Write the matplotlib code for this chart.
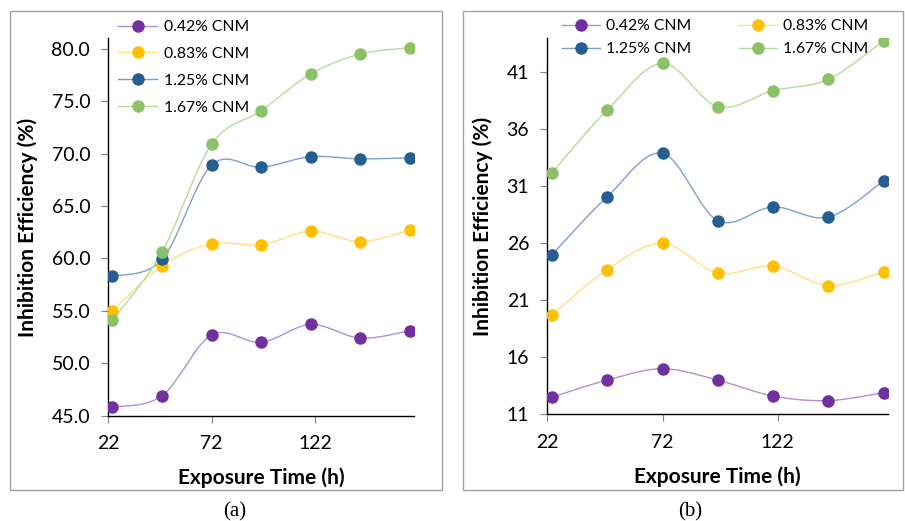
import numpy as np
import matplotlib.pyplot as plt

plt.rcParams['font.family'] = ['Lato', 'DejaVu Sans']

# exposure times (h)
hours = [24, 48, 72, 96, 120, 144, 168]
labels = ["0.42% CNM", "0.83% CNM", "1.25% CNM", "1.67% CNM"]

# panel (a) inhibition efficiency (%)
a_042 = [45.8, 46.9, 52.7, 52.0, 53.7, 52.4, 53.1]
a_083 = [55.0, 59.3, 61.4, 61.3, 62.6, 61.6, 62.7]
a_125 = [58.3, 59.9, 68.9, 68.7, 69.7, 69.5, 69.6]
a_167 = [54.1, 60.6, 70.9, 74.1, 77.6, 79.5, 80.1]

# panel (b) inhibition efficiency (%)
b_042 = [12.5, 14.0, 15.0, 14.0, 12.6, 12.2, 12.9]
b_083 = [19.7, 23.7, 26.0, 23.4, 24.0, 22.3, 23.5]
b_125 = [25.0, 30.1, 33.9, 28.0, 29.2, 28.3, 31.5]
b_167 = [32.2, 37.7, 41.8, 38.0, 39.4, 40.4, 43.8]

marker_colors = ["#7030A0", "#FFC000", "#255E91", "#8CC168"]
line_colors = ["#B28FD0", "#FFE080", "#7EA0C8", "#B5DB9A"]


def smooth(x, y, n=30):
    # Excel style smoothed line (cardinal spline -> bezier)
    x = np.asarray(x, float)
    y = np.asarray(y, float)
    px, py = [], []
    t = np.linspace(0, 1, n)
    for i in range(len(x) - 1):
        x0, y0 = (x[i - 1], y[i - 1]) if i > 0 else (x[i], y[i])
        x3, y3 = (x[i + 2], y[i + 2]) if i + 2 < len(x) else (x[i + 1], y[i + 1])
        c1x = x[i] + (x[i + 1] - x0) / 6
        c1y = y[i] + (y[i + 1] - y0) / 6
        c2x = x[i + 1] - (x3 - x[i]) / 6
        c2y = y[i + 1] - (y3 - y[i]) / 6
        bx = (1 - t) ** 3 * x[i] + 3 * (1 - t) ** 2 * t * c1x + 3 * (1 - t) * t ** 2 * c2x + t ** 3 * x[i + 1]
        by = (1 - t) ** 3 * y[i] + 3 * (1 - t) ** 2 * t * c1y + 3 * (1 - t) * t ** 2 * c2y + t ** 3 * y[i + 1]
        px.extend(bx)
        py.extend(by)
    return px, py


W, H = 905, 521
fig = plt.figure(figsize=(W / 100, H / 100), dpi=100)

# panel frames
for x0, x1 in [(10, 442), (463, 903)]:
    fig.add_artist(plt.Rectangle((x0 / W, 1 - 490 / H), (x1 - x0) / W, (490 - 11) / H,
                                 transform=fig.transFigure, fill=False, ec="#A0A0A0", lw=1.0))

ax1 = fig.add_axes([108.3 / W, 1 - 415.7 / H, (414 - 108.3) / W, (415.7 - 38.3) / H])
ax2 = fig.add_axes([547.3 / W, 1 - 414.3 / H, (888.3 - 547.3) / W, (414.3 - 38.3) / H])

panels = [(ax1, [a_042, a_083, a_125, a_167], (45, 81), np.arange(45, 81, 5), "{:.1f}"),
          (ax2, [b_042, b_083, b_125, b_167], (11, 44), np.arange(11, 44, 5), "{:.0f}")]

handles = {}
for ax, series, ylim, yt, fmt in panels:
    hs = []
    for vals, mc, lc, lab in zip(series, marker_colors, line_colors, labels):
        sx, sy = smooth(hours, vals)
        ax.plot(sx, sy, color=lc, lw=1.0, zorder=2)
        ax.plot(hours, vals, linestyle="none", marker="o", ms=8, color=mc, zorder=3)
        h, = ax.plot([], [], color=lc, lw=1.0, marker="o", ms=8, mfc=mc, mec=mc, label=lab)
        hs.append(h)
    handles[ax] = hs
    ax.set_xlim(22, 170)
    ax.set_ylim(*ylim)
    ax.set_xticks([22, 72, 122])
    ax.set_yticks(yt)
    ax.set_yticklabels([fmt.format(v) for v in yt])
    for s in ["top", "right"]:
        ax.spines[s].set_visible(False)
    for s in ["left", "bottom"]:
        ax.spines[s].set_color("black")
        ax.spines[s].set_linewidth(1.0)
    ax.tick_params(axis="both", direction="out", length=5, color="#808080", labelsize=14)
    ax.tick_params(axis="y", pad=8)
    ax.tick_params(axis="x", pad=9)
    ax.set_xlabel("Exposure Time (h)", fontsize=15, fontweight="bold", labelpad=11)
    ax.set_ylabel("Inhibition Efficiency (%)", fontsize=15, fontweight="bold", labelpad=10)
    ax.patch.set_alpha(0)

fig.legend(handles=handles[ax1], loc="upper left", bbox_to_anchor=(118 / W, 1 - 20 / H),
           frameon=False, fontsize=11.3, borderpad=0, borderaxespad=0,
           handlelength=2.5, handletextpad=0.4, labelspacing=0.82)
hb = handles[ax2]
fig.legend(handles=[hb[0], hb[2], hb[1], hb[3]], loc="upper left",
           bbox_to_anchor=(561.7 / W, 1 - 19 / H), ncol=2,
           frameon=False, fontsize=11.3, borderpad=0, borderaxespad=0,
           handlelength=2.45, handletextpad=0.4, labelspacing=0.6, columnspacing=3.0)

fig.text(235 / W, 1 - 512 / H, "(a)", family="Liberation Serif", fontsize=15, ha="center", va="center")
fig.text(690 / W, 1 - 512 / H, "(b)", family="Liberation Serif", fontsize=15, ha="center", va="center")

fig.savefig("out.png", dpi=100)
